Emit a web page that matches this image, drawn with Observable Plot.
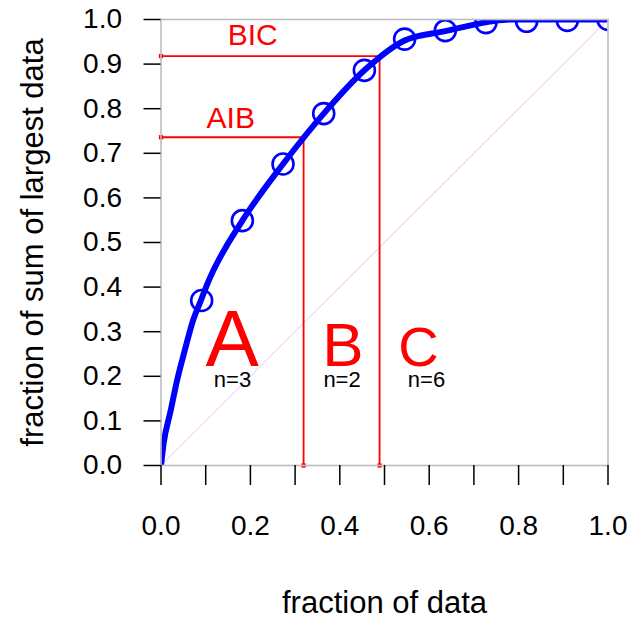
<!DOCTYPE html>
<html>
<head>
<meta charset="utf-8">
<script src="https://cdn.jsdelivr.net/npm/d3@7"></script>
<script src="https://cdn.jsdelivr.net/npm/@observablehq/plot@0.6"></script>
<style>
  html, body { margin: 0; padding: 0; background: #fff; }
  #chart svg { display: block; }
</style>
</head>
<body>
<div id="chart"></div>
<script>
// Observed points: fraction of data vs fraction of sum of largest data
const fracData = [0.091, 0.182, 0.273, 0.364, 0.455, 0.545, 0.636, 0.727, 0.818, 0.909, 1.0];
const fracSum  = [0.370, 0.549, 0.676, 0.789, 0.886, 0.956, 0.975, 0.993, 0.996, 0.998, 1.0];

// Fitted curve
const curveX = [0, 0.006, 0.021, 0.036, 0.055, 0.070, 0.088, 0.107, 0.182, 0.273, 0.364, 0.455, 0.545, 0.636, 0.685, 0.740, 0.780, 1.0];
const curveY = [0, 0.050, 0.120, 0.191, 0.265, 0.320, 0.367, 0.415, 0.549, 0.676, 0.789, 0.886, 0.953, 0.974, 0.985, 0.996, 1.0, 1.0];

// Group boundaries (A|B and B|C)
const boundaryNames = ["AIB", "BIC"];
const boundaryX = [0.319, 0.489];
const boundaryY = [0.736, 0.918];

// Groups
const groupNames = ["A", "B", "C"];
const groupCounts = [3, 2, 6];

// Ticks
const xTicks = [0, 0.1, 0.2, 0.3, 0.4, 0.5, 0.6, 0.7, 0.8, 0.9, 1.0];
const xTickLabels = ["0.0", "", "0.2", "", "0.4", "", "0.6", "", "0.8", "", "1.0"];
const yTicks = [0, 0.1, 0.2, 0.3, 0.4, 0.5, 0.6, 0.7, 0.8, 0.9, 1.0];
const yTickLabels = ["0.0", "0.1", "0.2", "0.3", "0.4", "0.5", "0.6", "0.7", "0.8", "0.9", "1.0"];

const xTitle = "fraction of data";
const yTitle = "fraction of sum of largest data";

const points = fracData.map((x, i) => ({x, y: fracSum[i]}));
const curve = curveX.map((x, i) => ({x, y: curveY[i]}));
const boundaries = boundaryNames.map((name, i) => ({name, x: boundaryX[i], y: boundaryY[i]}));

// label anchors (data coordinates)
const boundaryLabelX = [0.156, 0.205];
const boundaryLabelY = [0.756, 0.942];
const groupLabelX = [0.159, 0.407, 0.576];
const countLabelX = [0.160, 0.405, 0.594];
const groups = groupNames.map((g, i) => ({g, n: "n=" + groupCounts[i], x: groupLabelX[i], nx: countLabelX[i]}));
const groupFont = [80, 62, 56];

const RED = "#ff0000";
const BLUE = "#0000ff";
const FONT = "'Liberation Sans', Arial, Helvetica, sans-serif";

const chart = Plot.plot({
  width: 633,
  height: 619,
  marginLeft: 160.5,
  marginRight: 25.5,
  marginTop: 19,
  marginBottom: 154,
  x: {domain: [0, 1], label: null},
  y: {domain: [0, 1], label: null},
  style: {fontFamily: FONT, background: "#fff", color: "#000"},
  marks: [
    // diagonal
    Plot.line([{x: 0, y: 0}, {x: 1, y: 1}], {x: "x", y: "y", stroke: "#f0bff0", strokeWidth: 1}),
    // red boundary lines
    Plot.ruleY(boundaries, {y: "y", x1: 0, x2: "x", stroke: RED, strokeWidth: 1.8}),
    Plot.ruleX(boundaries, {x: "x", y1: 0, y2: "y", stroke: RED, strokeWidth: 1.8}),
    Plot.dot(boundaries, {x: 0, y: "y", symbol: "square", r: 2.4, fill: RED, stroke: "none"}),
    Plot.dot(boundaries, {x: "x", y: 0, symbol: "square", r: 2.4, fill: RED, stroke: "none"}),
    // boundary labels
    Plot.text(boundaries, {x: (d, i) => boundaryLabelX[i], y: (d, i) => boundaryLabelY[i],
      text: "name", fill: RED, fontSize: 30, lineAnchor: "bottom", textAnchor: "middle"}),
    // group letters
    ...groups.map((d, i) => Plot.text([d], {x: "x", y: 0.224, text: "g", fill: RED, fontSize: groupFont[i], lineAnchor: "bottom", textAnchor: "middle"})),
    Plot.text(groups, {x: "nx", y: 0.175, text: "n", fill: "#000", fontSize: 22, lineAnchor: "bottom", textAnchor: "middle"}),
    // fitted curve and points
    Plot.line(curve, {x: "x", y: "y", stroke: BLUE, strokeWidth: 6, curve: "monotone-x", clip: true}),
    Plot.dot(points, {x: "x", y: "y", r: 10.5, stroke: BLUE, strokeWidth: 2.6, fill: "none", clip: true}),
    // frame
    Plot.frame({stroke: "#bdbdbd", strokeWidth: 1.6}),
    // axes
    Plot.axisX({ticks: xTicks, tickFormat: (d, i) => xTickLabels[i], tickSize: 20, tickPadding: 30, fontSize: 28, strokeWidth: 1.5, stroke: "#000", label: null}),
    Plot.axisY({ticks: yTicks, tickFormat: (d, i) => yTickLabels[i], tickSize: 17, tickPadding: 22, fontSize: 28, strokeWidth: 1.5, stroke: "#000", label: null}),
    // axis titles
    Plot.text([xTitle], {frameAnchor: "bottom", dy: 147, lineAnchor: "bottom", textAnchor: "middle", text: d => d, fontSize: 31, fill: "#000"}),
    Plot.text([yTitle], {frameAnchor: "left", dx: -118.5, rotate: -90, lineAnchor: "bottom", textAnchor: "middle", text: d => d, fontSize: 31, fill: "#000"})
  ]
});
document.getElementById("chart").appendChild(chart);
</script>
</body>
</html>
